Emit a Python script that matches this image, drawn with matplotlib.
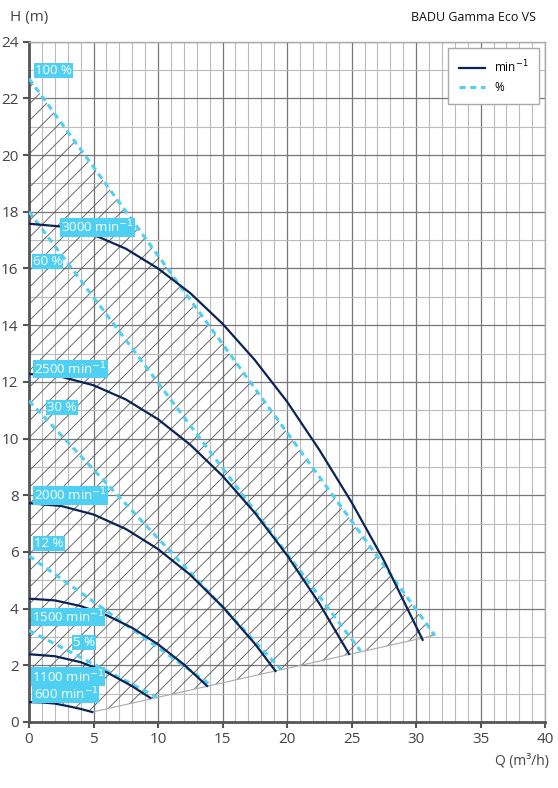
import matplotlib.pyplot as plt
import numpy as np

navy = "#0b2456"
cyan = "#4fd0f2"

# speed curves (Q m3/h, H m)
q3000 = [0, 2.5, 5, 7.5, 10, 12.5, 15, 17.5, 20, 22.5, 25, 27.5, 30.5]
h3000 = [17.58, 17.48, 17.19, 16.7, 16.0, 15.13, 14.05, 12.77, 11.3, 9.6, 7.75, 5.7, 2.9]
q2500 = [0, 2.5, 5, 7.5, 10, 12.5, 15, 17.5, 20, 22.5, 24.8]
h2500 = [12.28, 12.18, 11.88, 11.38, 10.68, 9.78, 8.68, 7.38, 5.88, 4.18, 2.4]
q2000 = [0, 2.5, 5, 7.5, 10, 12.5, 15, 17.5, 19.1]
h2000 = [7.72, 7.62, 7.32, 6.81, 6.1, 5.19, 4.07, 2.76, 1.8]
q1500 = [0, 2, 4, 6, 8, 10, 12, 13.8]
h1500 = [4.35, 4.29, 4.09, 3.77, 3.32, 2.74, 2.03, 1.27]
q1100 = [0, 2, 4, 6, 8, 9.4]
h1100 = [2.39, 2.32, 2.11, 1.76, 1.26, 0.85]
q600 = [0, 1, 2, 3, 4, 4.9]
h600 = [0.7, 0.69, 0.65, 0.56, 0.46, 0.35]

# efficiency lines
q100 = [0, 31.45]; h100 = [22.7, 3.06]
q60 = [0, 25.7]; h60 = [18.0, 2.5]
q30 = [0, 19.5]; h30 = [11.33, 1.87]
q12 = [0, 14.0]; h12 = [5.86, 1.33]
q5 = [0, 9.9]; h5 = [3.23, 0.88]

speed_labels = [("3000 min$^{-1}$", 2.5, 17.45), ("2500 min$^{-1}$", 0.4, 12.45),
                ("2000 min$^{-1}$", 0.4, 8.0), ("1500 min$^{-1}$", 0.2, 3.7),
                ("1100 min$^{-1}$", 0.2, 1.6), ("600 min$^{-1}$", 0.35, 1.0)]
pct_labels = [("100 %", 0.5, 23.0), ("60 %", 0.3, 16.25), ("30 %", 1.4, 11.1),
              ("12 %", 0.4, 6.3), ("5 %", 3.4, 2.8)]

plt.rcParams['font.family'] = ['Open Sans', 'DejaVu Sans']
plt.rcParams['hatch.linewidth'] = 0.6

fig = plt.figure(figsize=(5.58, 7.88), dpi=100)
ax = fig.add_axes([0.052, 0.0838, 0.925, 0.8632])

# hatched operating region
px = list(q100) + [q600[-1]] + q600[::-1]
py = list(h100) + [h600[-1]] + h600[::-1]
ax.fill(px, py, facecolor='none', edgecolor='#555555', lw=0, hatch='//', zorder=1)
ax.plot([q600[-1], q100[-1]], [h600[-1], h100[-1]], color='#aaaaaa', lw=0.8, zorder=2)

for q, h in [(q100, h100), (q60, h60), (q30, h30), (q12, h12), (q5, h5)]:
    ax.plot(q, h, color=cyan, lw=2.2, ls=(0, (2, 1.5)), zorder=3)
for q, h in [(q3000, h3000), (q2500, h2500), (q2000, h2000), (q1500, h1500), (q1100, h1100), (q600, h600)]:
    ax.plot(q, h, color=navy, lw=1.6, zorder=4)

for txt, x, y in speed_labels + pct_labels:
    ax.text(x, y, txt, color='white', fontsize=9.5, va='center', ha='left', zorder=5,
            bbox=dict(boxstyle='square,pad=0.08', fc=cyan, ec='none'))

ax.set_xlim(0, 40)
ax.set_ylim(0, 24)
ax.set_xticks(np.arange(0, 41, 5))
ax.set_yticks(np.arange(0, 25, 2))
ax.set_xticks(np.arange(0, 41, 1), minor=True)
ax.set_yticks(np.arange(0, 25, 1), minor=True)
ax.grid(which='major', color='#777777', lw=0.9)
ax.grid(which='minor', color='#bbbbbb', lw=0.8)
ax.set_axisbelow(True)
ax.tick_params(which='major', direction='out', length=4, width=1.5, color='#555555',
               labelsize=11, labelcolor='#444444')
ax.tick_params(which='minor', length=0)
for s in ['left', 'bottom']:
    ax.spines[s].set_color('#555555'); ax.spines[s].set_linewidth(2)
for s in ['top', 'right']:
    ax.spines[s].set_color('#aaaaaa'); ax.spines[s].set_linewidth(1)

fig.text(0.052, 0.978, "H (m)", fontsize=11, color='#444444', ha='center', va='center')
fig.text(0.935, 0.033, "Q (m³/h)", fontsize=10, color='#444444', ha='center', va='center')
fig.text(0.96, 0.978, "BADU Gamma Eco VS", fontsize=9, color='#111111', ha='right', va='center')

leg = ax.legend([plt.Line2D([], [], color=navy, lw=1.6),
                 plt.Line2D([], [], color=cyan, lw=2.2, ls=(0, (2, 1.5)))],
                ["min$^{-1}$", "%"], loc='upper right', fontsize=8.5, frameon=True,
                fancybox=False, borderpad=0.9, handlelength=2.2)
leg.get_frame().set_edgecolor('#aaaaaa')
leg.get_frame().set_facecolor('white')
leg.get_frame().set_alpha(1)

fig.savefig("out.png", dpi=100)
